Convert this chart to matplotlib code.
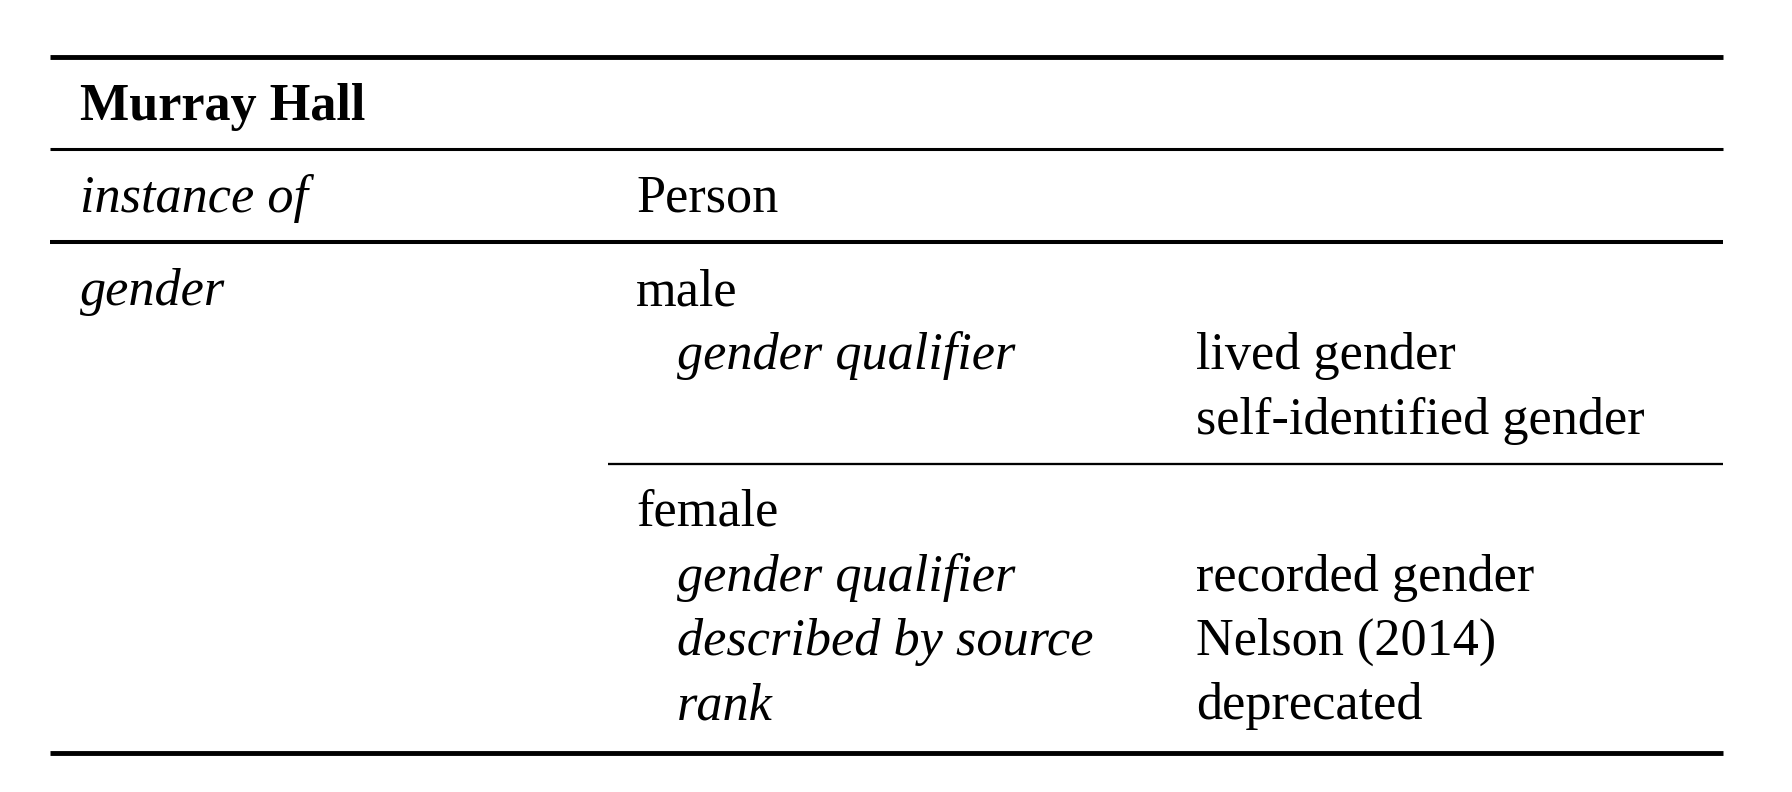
import matplotlib
matplotlib.use("Agg")
import matplotlib.pyplot as plt

# table content
item = "Murray Hall"
prop_instance = "instance of"
val_instance = "Person"
prop_gender = "gender"
gender_values = ["male", "female"]
male_qualifiers = ["gender qualifier"]
male_qualifier_values = [["lived gender", "self-identified gender"]]
female_qualifiers = ["gender qualifier", "described by source", "rank"]
female_qualifier_values = [["recorded gender"], ["Nelson (2014)"], ["deprecated"]]

# layout (pixels)
W, H = 1792, 792
x_left, x_right = 50, 1723
x_col1, x_col2, x_indent, x_col3 = 80, 636, 677, 1196
x_sub_rule = 608
line_h = 64.5
first_gap = 63
after_gap = 30
fs = 37.6

plt.rcParams['font.family'] = ['Liberation Serif', 'DejaVu Serif']

fig = plt.figure(figsize=(W / 100, H / 100), dpi=100)
ax = fig.add_axes([0, 0, 1, 1])
ax.set_xlim(0, W)
ax.set_ylim(H, 0)
ax.axis('off')


def rule(y, lw, x0=x_left):
    ax.plot([x0, x_right], [y, y], color='black', lw=lw, solid_capstyle='butt')


def txt(x, y, s, **kw):
    ax.text(x, y, s, fontsize=fs, va='baseline', ha='left', **kw)


y = 57
rule(y, 3.5)
y += first_gap
txt(x_col1, y, item, fontweight='bold')
y += after_gap - 1
rule(y, 2.2)

y += first_gap
txt(x_col1, y, prop_instance, style='italic')
txt(x_col2, y, val_instance)
y += after_gap
rule(y, 2.9)

y += first_gap
txt(x_col1, y, prop_gender, style='italic')
blocks = [(male_qualifiers, male_qualifier_values),
          (female_qualifiers, female_qualifier_values)]
for i, (val, (quals, qvals)) in enumerate(zip(gender_values, blocks)):
    if i > 0:
        y += after_gap
        rule(y, 1.65, x0=x_sub_rule)
        y += first_gap - 1
    txt(x_col2, y, val)
    for q, vals in zip(quals, qvals):
        y += line_h
        txt(x_indent, y, q, style='italic')
        for j, v in enumerate(vals):
            if j > 0:
                y += line_h
            txt(x_col3, y, v)
y += after_gap + 3
rule(y, 3.5)

fig.savefig("out.png", dpi=100)
